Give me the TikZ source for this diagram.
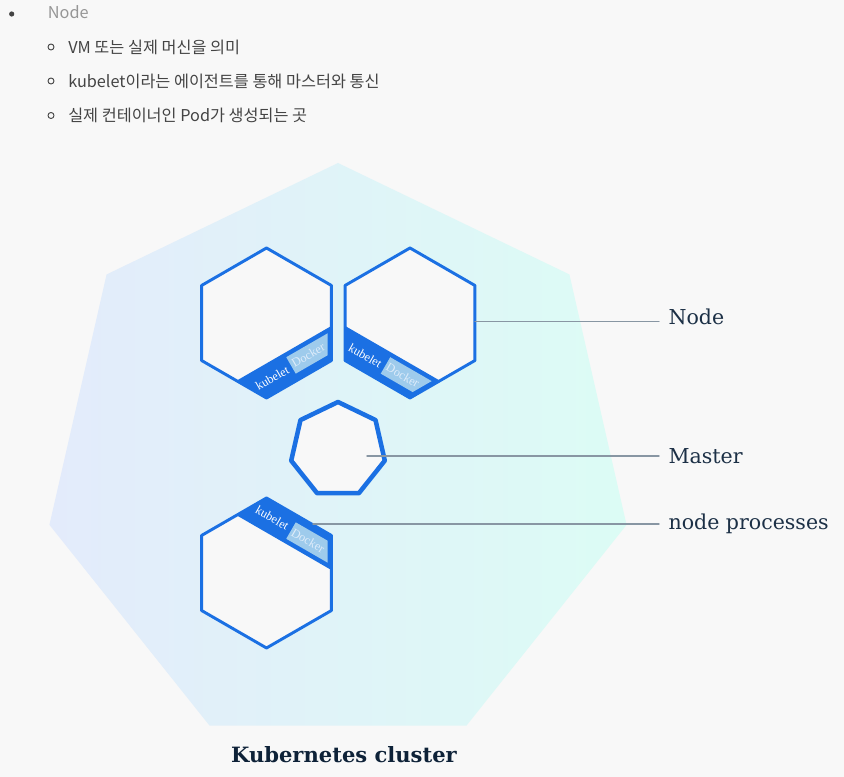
\documentclass[tikz,border=0pt]{standalone}
\usepackage{fontspec}
\setmainfont{DejaVu Serif}
\newfontfamily\krfont{Noto Sans CJK KR}
\newfontfamily\thinserif{Liberation Serif}
\definecolor{kblue}{RGB}{27,112,227}
\definecolor{kdock}{RGB}{158,203,236}
\definecolor{kdocktext}{RGB}{222,236,250}
\definecolor{kbg}{RGB}{248,248,248}
\definecolor{kline}{RGB}{136,150,163}
\definecolor{knavy}{RGB}{28,48,70}
\definecolor{ktitle}{RGB}{14,34,56}
\definecolor{kleft}{RGB}{227,235,251}
\definecolor{kright}{RGB}{220,252,245}
\definecolor{kgray}{RGB}{68,68,68}
\definecolor{klight}{RGB}{150,150,150}
\newcommand\hexoutline{(90:75) -- (30:75) -- (-30:75) -- (-90:75) -- (-150:75) -- (150:75) -- cycle}
\newcommand\hexinner{(90:70.6) -- (30:70.6) -- (-30:70.6) -- (-90:70.6) -- (-150:70.6) -- (150:70.6) -- cycle}
% #1 name, #2 centre, #3 band normal, #4 band direction
\newcommand\workerhex[4]{%
\begin{scope}[shift={#2}]
\fill[kbg] \hexoutline;
\begin{scope}
\clip \hexoutline;
\fill[kblue] ([shift={(#4:-90)}]#3:35) -- ([shift={(#4:90)}]#3:35)
 -- ([shift={(#4:90)}]#3:90) -- ([shift={(#4:-90)}]#3:90) -- cycle;
\end{scope}
\begin{scope}
\clip \hexinner;
\fill[kdock] (#3:39.5) -- ([shift={(#4:70)}]#3:39.5)
 -- ([shift={(#4:70)}]#3:58.5) -- (#3:58.5) -- cycle;
\end{scope}
\node[kubelettext, rotate=#4] (#1-kubelet) at ([shift={(#4:-22.5)}]#3:50.5) {kubelet};
\node[dockertext, rotate=#4] (#1-docker) at ([shift={(#4:20)}]#3:48.8) {Docker};
\draw[hexline] \hexoutline;
\end{scope}}
\begin{document}
\begin{tikzpicture}[x=0.75pt, y=0.75pt, line join=round, line cap=round,
 hexline/.style={draw=kblue, line width=2.2pt},
 masterline/.style={draw=kblue, line width=3.4pt, fill=kbg},
 leader/.style={draw=kline, line width=1.1pt},
 lbl/.style={anchor=base west, inner xsep=7pt, inner ysep=0pt, text=knavy, font=\fontsize{15.4}{18}\selectfont},
 kubelettext/.style={text=white, inner sep=0pt, font=\thinserif\fontsize{9.2}{10}\selectfont},
 dockertext/.style={text=kdocktext, inner sep=0pt, font=\thinserif\fontsize{9.2}{10}\selectfont},
 item/.style={anchor=base west, inner sep=0pt, text=kgray, font=\krfont\fontsize{12.2}{14}\selectfont}]
\useasboundingbox (0,0) rectangle (844,777);
\fill[kbg] (0,0) rectangle (844,777);

\begin{scope}[shift={(338,318)}]
\shade[left color=kleft, right color=kright] (90:296) \foreach \k in {1,...,6}{ -- ({90+\k*360/7}:296)} -- cycle;
\end{scope}

\workerhex{nodeA}{(266.5,454)}{-60}{30}
\workerhex{nodeB}{(410,454)}{-120}{-30}
\workerhex{nodeC}{(266.5,204)}{60}{-30}

\begin{scope}[shift={(338,327)}]
\path[masterline] (90:48) \foreach \k in {1,...,6}{ -- ({90+\k*360/7}:48)} -- cycle;
\end{scope}

\path
(475,455.3) coordinate (nodeB-east)
(367,321) coordinate (master-c)
(313,253) coordinate (nodeC-band)
;
\node[lbl] (lbl-node) at (659,452) {Node};
\node[lbl] (lbl-master) at (659,313.7) {Master};
\node[lbl] (lbl-proc) at (659,247.7) {node processes};
\draw[leader] (nodeB-east) -- (nodeB-east -| lbl-node.west);
\draw[leader] (master-c) -- (master-c -| lbl-master.west);
\draw[leader] (nodeC-band) -- (nodeC-band -| lbl-proc.west);

\node[anchor=base, text=ktitle, inner sep=0pt, font=\bfseries\fontsize{15.8}{18}\selectfont] (title) at (344,14.5) {Kubernetes cluster};

\fill[kgray] (11.7,763) circle (2.6);
\node[item, text=klight] (li-node) at (47.7,758) {Node};
\draw[kgray, line width=0.7pt] (51,730) circle (3) (51,696) circle (3) (51,661.5) circle (3);
\node[item] (li-vm) at (68,723.7) {VM 또는 실제 머신을 의미};
\node[item] (li-kubelet) at (68,689.7) {kubelet이라는 에이전트를 통해 마스터와 통신};
\node[item] (li-pod) at (68,655.3) {실제 컨테이너인 Pod가 생성되는 곳};
\end{tikzpicture}
\end{document}
